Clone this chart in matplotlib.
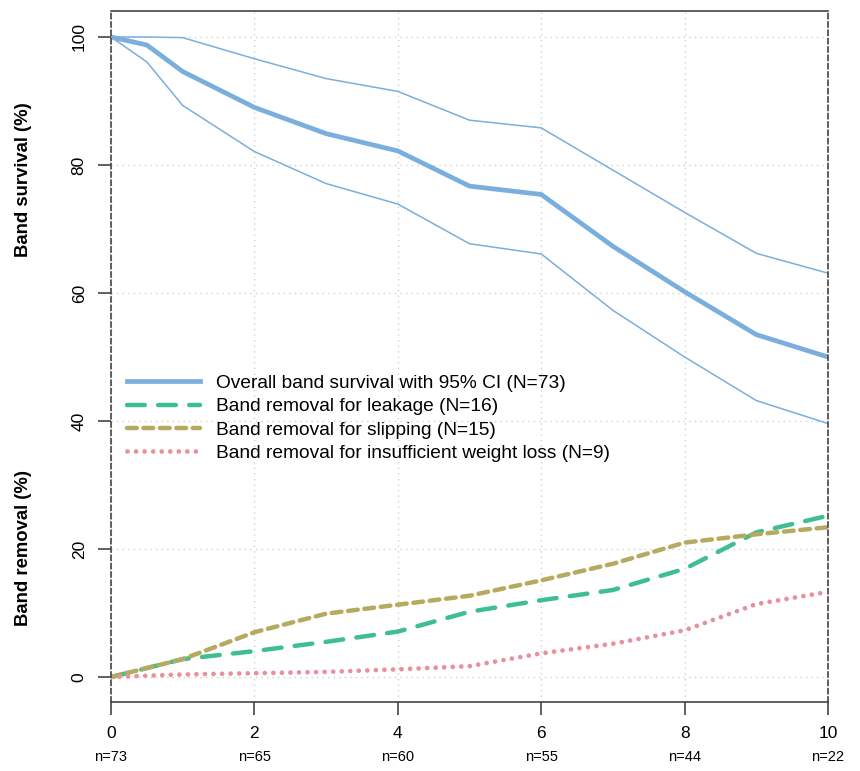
import matplotlib
matplotlib.use("Agg")
import matplotlib.pyplot as plt
from matplotlib.lines import Line2D

plt.rcParams['font.family'] = ['Liberation Sans', 'DejaVu Sans']

# survival data (years)
t_surv = [0, 0.5, 1, 2, 3, 4, 5, 6, 7, 8, 9, 10]
surv = [100, 98.75, 94.6, 89.0, 84.9, 82.2, 76.7, 75.4, 67.3, 60.2, 53.5, 50.0]
surv_upper = [100, 100, 99.9, 96.6, 93.5, 91.5, 87.0, 85.8, 79.2, 72.6, 66.2, 63.1]
surv_lower = [100, 96.1, 89.3, 82.1, 77.1, 73.9, 67.7, 66.1, 57.3, 50.0, 43.2, 39.6]

# removal data
t_rem = [0, 0.5, 1, 2, 3, 4, 5, 6, 7, 8, 9, 10]
leakage = [0, 1.4, 2.8, 4.05, 5.5, 7.1, 10.2, 12.0, 13.6, 16.9, 22.6, 25.2]
slipping = [0, 1.4, 2.8, 7.0, 9.9, 11.3, 12.7, 15.1, 17.7, 21.0, 22.3, 23.4]
weight_loss = [0, 0.2, 0.4, 0.6, 0.8, 1.2, 1.7, 3.7, 5.2, 7.3, 11.4, 13.3]

x_ticks = [0, 2, 4, 6, 8, 10]
n_at_risk = ['n=73', 'n=65', 'n=60', 'n=55', 'n=44', 'n=22']
y_ticks = [0, 20, 40, 60, 80, 100]

labels = ['Overall band survival with 95% CI (N=73)',
          'Band removal for leakage (N=16)',
          'Band removal for slipping (N=15)',
          'Band removal for insufficient weight loss (N=9)']

c_blue = '#7AAEDD'
c_green = '#3FBF8F'
c_olive = '#B5AA60'
c_pink = '#E8909F'
c_axis = '#444444'

ls_leak = (0, (4, 3))
ls_slip = (0, (2.2, 1.5))
ls_wl = (0, (0.01, 1.8))

fig = plt.figure(figsize=(8.6, 7.71), dpi=100)
ax = fig.add_axes([111/860, 1-702/771, (828-111)/860, (702-11)/771])

# grid
for xv in x_ticks:
    ax.axvline(xv, color='#CFCFCF', lw=1, ls=(0, (1, 3)), zorder=0)
for yv in y_ticks:
    ax.axhline(yv, color='#CFCFCF', lw=1, ls=(0, (1, 3)), zorder=0)

# survival with CI
ax.plot(t_surv, surv_upper, color=c_blue, lw=1.1)
ax.plot(t_surv, surv_lower, color=c_blue, lw=1.1)
ax.plot(t_surv, surv, color=c_blue, lw=3.4, solid_capstyle='round')

# removal curves
ax.plot(t_rem, leakage, color=c_green, lw=3.2, ls=ls_leak, dash_capstyle='round')
ax.plot(t_rem, slipping, color=c_olive, lw=3.2, ls=ls_slip, dash_capstyle='round')
ax.plot(t_rem, weight_loss, color=c_pink, lw=3.4, ls=ls_wl, dash_capstyle='round')

ax.set_xlim(0, 10)
ax.set_ylim(-3.9, 104.06)

ax.spines['left'].set_linestyle((0, (3, 2)))
ax.spines['right'].set_linestyle((0, (3, 2)))
for s in ax.spines.values():
    s.set_color(c_axis)
    s.set_linewidth(1.2)

ax.set_xticks(x_ticks)
ax.set_xticklabels([str(v) for v in x_ticks], fontsize=12.5)
ax.set_yticks(y_ticks)
ax.set_yticklabels([str(v) for v in y_ticks], fontsize=12.5, rotation=90, va='center')
ax.tick_params(axis='both', length=9.5, width=1.2, color=c_axis, pad=8)

for xv, lab in zip(x_ticks, n_at_risk):
    ax.text(xv, -0.08, lab, transform=ax.get_xaxis_transform(),
            ha='center', va='center', fontsize=10.5)

fig.text(24/860, 1-180/771, 'Band survival (%)', rotation=90, ha='center', va='center',
         fontsize=13.3, fontweight='bold')
fig.text(24/860, 1-548/771, 'Band removal (%)', rotation=90, ha='center', va='center',
         fontsize=13.3, fontweight='bold')

handles = [
    Line2D([], [], color=c_blue, lw=3.4),
    Line2D([], [], color=c_green, lw=3.2, ls=ls_leak, dash_capstyle='round'),
    Line2D([], [], color=c_olive, lw=3.2, ls=ls_slip, dash_capstyle='round'),
    Line2D([], [], color=c_pink, lw=3.4, ls=ls_wl, dash_capstyle='round'),
]
ax.legend(handles, labels, loc='upper left', bbox_to_anchor=(0.0223, 0.474),
          frameon=False, fontsize=13.8, borderpad=0, borderaxespad=0,
          handlelength=3.8, handletextpad=0.83, labelspacing=0.31)

fig.savefig('out.png', dpi=100)
